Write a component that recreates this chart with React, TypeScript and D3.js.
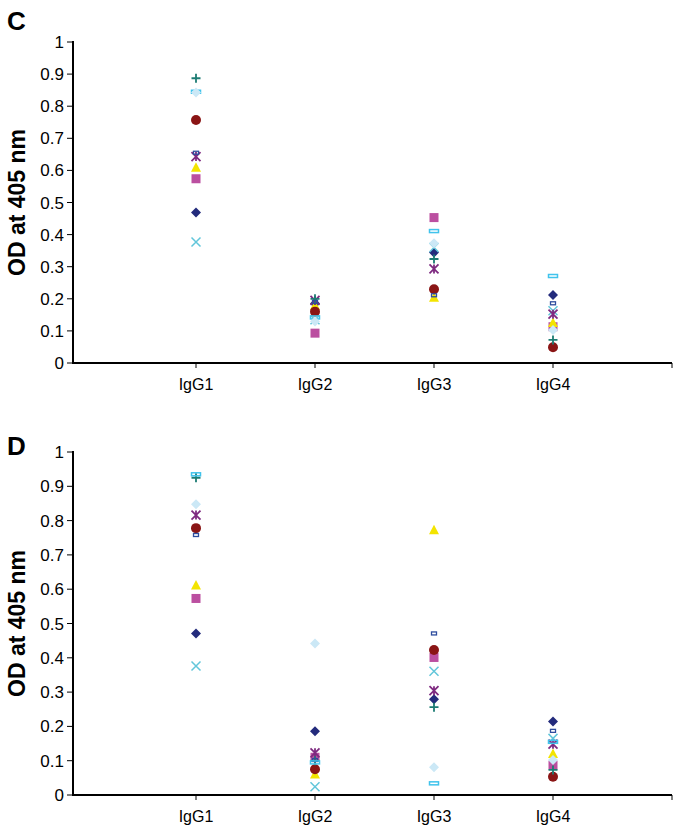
import React from "react";
import * as d3 from "d3";

// categories and tick values
const categories = ["IgG1", "IgG2", "IgG3", "IgG4"];
const yTicks = [0, 0.1, 0.2, 0.3, 0.4, 0.5, 0.6, 0.7, 0.8, 0.9, 1];

// marker kinds and colours (Excel default order)
const markers = ["diamond", "square", "triangle", "cross", "star", "circle", "plus", "shortDash", "longDash", "diamond"];
const colors = ["#232b7c", "#bb4fa0", "#f3e400", "#62c6da", "#7e2a80", "#8a1515", "#1c7c73", "#2e4d9e", "#40c3ec", "#cbe8f6"];

// panel C, one array per series (IgG1..IgG4)
const c1 = [0.469, 0.185, 0.344, 0.212];
const c2 = [0.574, 0.093, 0.453, 0.113];
const c3 = [0.61, 0.18, 0.205, 0.126];
const c4 = [0.377, 0.135, 0.36, 0.163];
const c5 = [0.643, 0.195, 0.293, 0.152];
const c6 = [0.757, 0.16, 0.23, 0.049];
const c7 = [0.887, 0.2, 0.324, 0.072];
const c8 = [0.655, 0.19, 0.211, 0.186];
const c9 = [0.845, 0.142, 0.411, 0.271];
const c10 = [0.843, 0.129, 0.373, 0.103];

// panel D
const d1 = [0.471, 0.186, 0.279, 0.214];
const d2 = [0.573, 0.11, 0.401, 0.087];
const d3v = [0.612, 0.061, 0.773, 0.121];
const d4 = [0.376, 0.024, 0.361, 0.165];
const d5 = [0.816, 0.123, 0.304, 0.148];
const d6 = [0.778, 0.075, 0.423, 0.053];
const d7 = [0.925, 0.1, 0.256, 0.073];
const d8 = [0.758, 0.102, 0.471, 0.187];
const d9 = [0.935, 0.095, 0.034, 0.155];
const d10 = [0.848, 0.442, 0.081, 0.102];

const panelC = [c1, c2, c3, c4, c5, c6, c7, c8, c9, c10];
const panelD = [d1, d2, d3v, d4, d5, d6, d7, d8, d9, d10];

const font = "'Liberation Sans', Arial, sans-serif";

const Marker = ({ kind, color, x, y }) => {
  const s = 4.5;
  switch (kind) {
    case "diamond":
      return <path d={`M${x},${y - s - 0.5}L${x + s + 0.5},${y}L${x},${y + s + 0.5}L${x - s - 0.5},${y}Z`} fill={color} />;
    case "square":
      return <rect x={x - s} y={y - s} width={s * 2} height={s * 2} fill={color} />;
    case "triangle":
      return <path d={`M${x},${y - s - 0.5}L${x + s + 0.5},${y + s}L${x - s - 0.5},${y + s}Z`} fill={color} />;
    case "cross":
      return <path d={`M${x - s},${y - s}L${x + s},${y + s}M${x - s},${y + s}L${x + s},${y - s}`} stroke={color} strokeWidth={1.5} fill="none" />;
    case "star":
      return <path d={`M${x - s},${y - s}L${x + s},${y + s}M${x - s},${y + s}L${x + s},${y - s}M${x},${y - s}L${x},${y + s}`} stroke={color} strokeWidth={1.8} fill="none" />;
    case "circle":
      return <circle cx={x} cy={y} r={s + 0.5} fill={color} />;
    case "plus":
      return <path d={`M${x - s},${y}L${x + s},${y}M${x},${y - s}L${x},${y + s}`} stroke={color} strokeWidth={1.8} fill="none" />;
    case "shortDash":
      return <rect x={x - 2.5} y={y - 1.5} width={5} height={3} fill="none" stroke={color} strokeWidth={1.3} />;
    case "longDash":
      return <rect x={x - 4.5} y={y - 1.5} width={9} height={3} fill="none" stroke={color} strokeWidth={1.5} />;
    default:
      return null;
  }
};

const Panel = ({ letter, series, top, y0, y1 }) => {
  const left = 73;
  const right = 672;
  const xScale = d3.scaleLinear().domain([0, 5]).range([left + 4, right]);
  const yScale = d3.scaleLinear().domain([0, 1]).range([y0, y1]);

  return (
    <g>
      <text x={7} y={top} fontFamily={font} fontWeight="bold" fontSize={26}>{letter}</text>
      <text
        transform={`translate(25,${(y0 + y1) / 2}) rotate(-90)`}
        textAnchor="middle"
        fontFamily={font}
        fontWeight="bold"
        fontSize={23}
      >OD at 405 nm</text>

      {/* y axis */}
      <line x1={left} x2={left} y1={y1 - 1} y2={y0} stroke="#000" strokeWidth={2} />
      {yTicks.map(t => (
        <g key={t}>
          <line x1={left - 6} x2={left} y1={yScale(t)} y2={yScale(t)} stroke="#000" strokeWidth={1} />
          <text x={left - 9} y={yScale(t) + 6} textAnchor="end" fontFamily={font} fontSize={17}>{t}</text>
        </g>
      ))}

      {/* x axis */}
      <line x1={left - 1} x2={right} y1={y0} y2={y0} stroke="#000" strokeWidth={2} />
      {[1, 2, 3, 4, 5].map(k => (
        <line key={k} x1={xScale(k)} x2={xScale(k)} y1={y0} y2={y0 + 5} stroke="#000" strokeWidth={1} />
      ))}
      {categories.map((c, i) => (
        <text key={c} x={xScale(i + 1)} y={y0 + 27} textAnchor="middle" fontFamily={font} fontSize={16}>{c}</text>
      ))}

      {series.map((vals, si) =>
        vals.map((v, i) => (
          <Marker key={`${si}-${i}`} kind={markers[si]} color={colors[si]} x={xScale(i + 1)} y={yScale(v)} />
        ))
      )}
    </g>
  );
};

export default function App() {
  return (
    <svg width={693} height={839} style={{ position: "absolute", left: 0, top: 0, background: "#fff" }}>
      <rect width={693} height={839} fill="#fff" />
      <Panel letter="C" series={panelC} top={30} y0={363} y1={42} />
      <Panel letter="D" series={panelD} top={455} y0={795} y1={452} />
    </svg>
  );
}
